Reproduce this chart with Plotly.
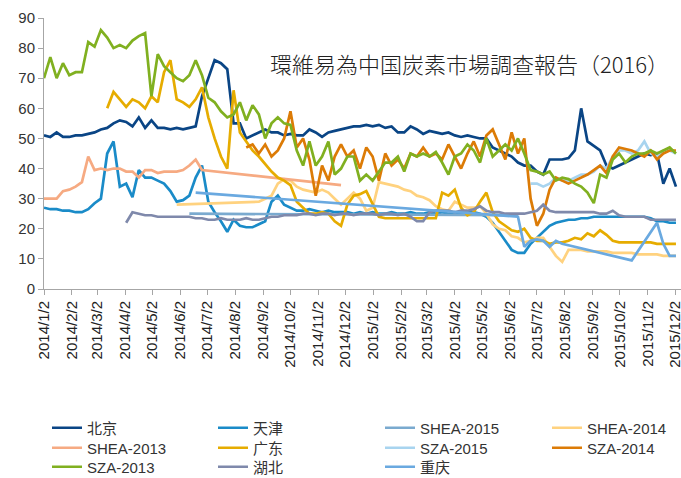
import pandas as pd
import plotly.graph_objects as go

N = None

# weekly sampling grid (x categories)
week_start = "2014-01-02"
n_weeks = 101
dates = pd.date_range(week_start, periods=n_weeks, freq="7D")

tick_labels = ["2014/1/2", "2014/2/2", "2014/3/2", "2014/4/2", "2014/5/2", "2014/6/2",
               "2014/7/2", "2014/8/2", "2014/9/2", "2014/10/2", "2014/11/2", "2014/12/2",
               "2015/1/2", "2015/2/2", "2015/3/2", "2015/4/2", "2015/5/2", "2015/6/2",
               "2015/7/2", "2015/8/2", "2015/9/2", "2015/10/2", "2015/11/2", "2015/12/2"]

beijing = [51, 50.5, 52, 50.5, 50.5, 51, 51, 51.5, 52, 53,
           53.5, 55, 56, 55.5, 54, 57, 53.5, 56, 53.5, 53.5,
           53, 53.5, 53, 53.5, 54, 64, 70, 76, 75, 73,
           55, 55, 50, 51, 52, 53, 52, 52, 51, 51.5,
           51, 51, 53, 52, 50.5, 52, 52.5, 53, 53.5, 54,
           54, 54.5, 54, 54.5, 53.5, 54, 52, 52, 54, 53,
           51.5, 52.5, 52, 51.5, 52, 51, 50.5, 51, 50.5, 50,
           50, 47, 46, 45, 44, 42, 41, 41, 39, 38,
           43, 43, 43, 43.5, 46, 60, 49, 47.5, 46, 41,
           40, 41, 42, 43, 44, 45, 44.5, 45, 35, 40, 34]

tianjin = [27, 26.5, 26.5, 26, 26, 25.5, 25.5, 26.5, 28.5, 30,
           45, 49, 34, 35, 30.5, 39.5, 37, 37, 36, 35,
           32.5, 29, 29.5, 31, 37, 41, 29, 25.5, 22.5, 19,
           23, 21, 20.5, 20.5, 21.5, 22.5, 29, 31, 28, 27,
           26, 26, 26.5, 26, 25.5, 26, 25.5, 25.5, 25.5, 25,
           25.5, 25, 25.5, 25, 25, 25.5, 25, 25, 25.5, 25,
           25, 25.5, 25, 25.5, 25, 25.5, 25, 25.5, 25.5, 25,
           24, 22, 19, 16, 13, 12, 12, 15, 17, 19,
           21, 22, 22.5, 23, 23, 23.5, 23.5, 24, 24, 24,
           24, 24, 24, 24, 24, 24, 23.5, 22.5, 22.5, 22, 22]

shea_2015 = [N] * 23 + [25] + [N] * 51 + [24.5] + [N] * 25

shea_2014 = ([N] * 21 + [28] + [N] * 12 +
             [29, 30, 31, 35, 36.5, 36, 34, 33, 32.5, 32, 33, 32, 30, 28, 30, 32,
              30, 26, 27, 35.5, 35, 34.5, 34, 33, 32.5, 31, 30.5, 29.5, 27.5, 26.5,
              26, 29, 28, 27, 27, 27.5, 25, 21.5, 20, 19.5, 17.5, 17, 15.5, 16, 17,
              17, 14, 11, 9, 13, 13, 13, 12.5, 12.5, 12.5, 12.5, 12, 12, 12, 12,
              11.5, 11.5, 11.5, 11.5, 11, 11, 11])

shea_2013 = ([30, 30, 30, 32.5, 33, 34, 35.5, 44, 39.5, 40,
              39.5, 40, 40, 39, 39, 37, 39.5, 39.5, 38.5, 39,
              39, 39, 39.5, 41, 43, 39.5] + [N] * 21 + [34.5] + [N] * 53)

guangdong = ([N] * 10 +
             [60, 65.5, 63, 60.5, 63, 62, 60, 64, 62, 72,
              76, 63, 62, 60.5, 63, 67, 57, 50, 44, 40,
              66, 52, 49, 46, 44, 41.5, 39, 37, 36, 34.5,
              29, 27, 25, 25, 25.5, 25, 22.5, 21, 28, 31,
              31.5, 32.5, 28, 24, 23.5, 23.5, 23.5, 23.5, 23.5, 23.5,
              23.5, 23.5, 23.5, 32, 31, 33, 27, 24.5, 25.5, 29,
              32, 25.5, 22.5, 21, 19.5, 19, 20, 17, 16, 16,
              15, 15.5, 15.5, 16, 17, 16.5, 18.5, 17.5, 19.5, 18,
              16, 15.5, 15.5, 15.5, 15.5, 15.5, 15.5, 15, 15, 15, 15])

sza_2015 = ([N] * 77 +
            [35, 35, 34, 35, 37, 36, 36, 37, 38, 38, 39, 41, 40, 44,
             46, 46, 45, 46, 49, 45, 44, 46, 46, 45])

sza_2014 = ([N] * 32 +
            [47, 48, 45, 48, 44, 46, 50, 59,
             47, 50, 43, 31, 41, 36, 44, 48, 44, 46,
             40, 47, 44, 36, 45, 41, 43, 40, 45, 44,
             47, 44, 45, 43, 48, 44, 40, 45, 49, 44,
             51, 53, 48, 43, 52, 45, 50, 30, 21, 25,
             33, 37, 36, 35, 36, 37, 38, 39.5, 41, 38.5,
             44, 47, 46.5, 46, 45, 44, 46, 43, 45, 46, 46])

sza_2013 = [70, 77, 70, 75, 71, 72, 72, 82, 80.5, 86,
            83.5, 80, 81, 80, 82.5, 84, 85, 64, 78, 74,
            72, 70, 69, 71, 76, 71, 63.5, 62, 59, 57,
            58, 62, 56, 61, 58, 50, 55, 57, 55, 54.5,
            46, 41, 49, 41, 44, 49, 38, 40, 44, 44,
            36, 38, 36, 39, 42, 42, 44, 39, 45, 44,
            45, 44, 45.5, 42, 38, 44, 45, 48, 46, 42,
            50, 44, 46, 48, 46, 50, 45, 39.5, 39, 38,
            39, 36, 37, 36.5, 35, 34, 32, 28.5, 38, 37,
            43, 45, 42, 44, 45, 45, 46, 45, 46, 47, 45]

hubei = ([N] * 13 +
         [22, 25.5, 25, 24.5, 24.5, 24, 24, 24, 24, 24, 24, 23.5,
          23.5, 23, 23, 23.5, 23, 23, 23, 23.5, 23, 23, 23.5,
          24, 24, 24.5, 24.5, 24.5,
          25, 25, 24.5, 25, 25, 24.5, 25, 25, 24.5, 25, 25, 25, 24.5, 25, 25, 24.5, 25,
          24, 22.5, 22.5, 25.5, 26,
          26, 26, 25.5, 26, 26, 26.5, 27.5, 26,
          25.5, 25.5, 25, 25, 25, 25, 25.5, 26, 28, 26,
          25.5, 25.5, 25.5, 25.5, 25.5, 25.5, 25.5,
          25, 25, 26, 24.5, 24, 24, 24, 24, 23, 23, 23, 23, 23])

chongqing = ([N] * 24 + [32] + [N] * 50 +
             [24, 14, 16, 16.5, 16, 14, 16, 15] + [N] * 10 + [9.5] + [N] * 3 +
             [22, 15, 11, 11])

series = [
    ("北京", beijing, "#0A4585"),
    ("天津", tianjin, "#1A8BC8"),
    ("SHEA-2015", shea_2015, "#7AAACF"),
    ("SHEA-2014", shea_2014, "#FFD27F"),
    ("SHEA-2013", shea_2013, "#F6AA82"),
    ("广东", guangdong, "#E6AC00"),
    ("SZA-2015", sza_2015, "#A8D4EF"),
    ("SZA-2014", sza_2014, "#DC7B06"),
    ("SZA-2013", sza_2013, "#80B020"),
    ("湖北", hubei, "#7F89AB"),
    ("重庆", chongqing, "#6AA9E0"),
]

W, H = 681, 478
ml, mr, mt, mb = 44, 0, 18, 189

# legend grid: 4 columns x 3 rows (pixel layout of the Excel legend)
col_x = [47, 213, 380, 547]
row_y = [428, 448, 467]

fig = go.Figure()
for k, (name, vals, color) in enumerate(series):
    lg = "legend" if k == 0 else f"legend{k + 1}"
    fig.add_trace(go.Scatter(
        x=dates, y=vals, name=name, mode="lines",
        line=dict(color=color, width=2.7),
        connectgaps=True,
        legend=lg,
    ))
    fig.update_layout({lg: dict(
        xref="container", yref="container",
        x=col_x[k % 4] / W, y=(H - row_y[k // 4]) / H,
        xanchor="left", yanchor="middle",
        orientation="v", tracegroupgap=0,
        bgcolor="rgba(0,0,0,0)",
        font=dict(size=15, color="#333333"),
    )})

tick_dates = pd.to_datetime(tick_labels, format="%Y/%m/%d")

fig.update_layout(
    width=W, height=H,
    margin=dict(l=ml, r=mr, t=mt, b=mb, autoexpand=False),
    paper_bgcolor="white", plot_bgcolor="white",
    font=dict(family="Arial, Liberation Sans, Noto Sans CJK SC", size=15, color="#333333"),
    showlegend=True,
    xaxis=dict(
        type="date",
        range=["2014-01-02", "2015-12-08 14:00"],
        tickmode="array", tickvals=tick_dates, ticktext=tick_labels,
        tickangle=-90, ticks="outside", ticklen=5, tickcolor="#A6A6A6",
        showline=True, linecolor="#A6A6A6", linewidth=1,
        showgrid=False, zeroline=False,
        ticklabeloverflow="allow",
        tickfont=dict(size=15, color="#222222"),
    ),
    yaxis=dict(
        range=[0, 90], dtick=10, tick0=0,
        ticks="outside", ticklen=5, tickcolor="#A6A6A6",
        showline=True, linecolor="#A6A6A6", linewidth=1,
        showgrid=False, zeroline=False,
        tickfont=dict(size=15, color="#333333"),
    ),
)

fig.add_annotation(
    text="環維易為中国炭素市場調查報告（2016）",
    xref="paper", yref="paper",
    x=(268 - ml) / (W - ml - mr), y=(478 - mb - 63) / (478 - mb - mt),
    xanchor="left", yanchor="middle", showarrow=False,
    font=dict(family="Noto Sans CJK JP", size=22, color="#222222", weight=300),
)

fig.write_html("out.html", config={"displayModeBar": False},
               post_script="document.body.style.margin='0';")
